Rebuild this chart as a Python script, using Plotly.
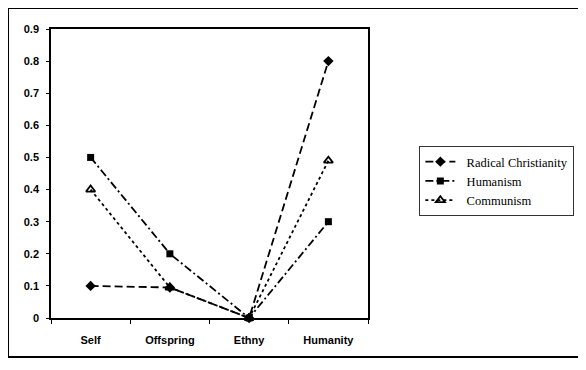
import plotly.graph_objects as go

categories = ["Self", "Offspring", "Ethny", "Humanity"]
radical_christianity = [0.1, 0.095, 0.0, 0.8]
humanism = [0.5, 0.2, 0.0, 0.3]
communism = [0.4, 0.095, 0.0, 0.49]
y_ticks = [0, 0.1, 0.2, 0.3, 0.4, 0.5, 0.6, 0.7, 0.8, 0.9]
y_labels = ["0", "0.1", "0.2", "0.3", "0.4", "0.5", "0.6", "0.7", "0.8", "0.9"]

tick_font = dict(size=11, family="Arial, Liberation Sans, sans-serif", color="black", weight="bold")

fig = go.Figure()
fig.add_trace(go.Scatter(
    x=categories, y=radical_christianity, name="  Radical Christianity",
    mode="lines+markers",
    line=dict(color="black", width=1.8, dash="8px,4px"),
    marker=dict(symbol="diamond", size=8, color="black"),
    cliponaxis=False,
))
fig.add_trace(go.Scatter(
    x=categories, y=humanism, name="  Humanism",
    mode="lines+markers",
    line=dict(color="black", width=1.8, dash="8px,3px,2px,3px"),
    marker=dict(symbol="square", size=7, color="black"),
    cliponaxis=False,
))
fig.add_trace(go.Scatter(
    x=categories, y=communism, name="  Communism",
    mode="lines+markers",
    line=dict(color="black", width=1.8, dash="3px,3px"),
    marker=dict(symbol="triangle-up-open", size=8, color="black", line=dict(width=1.8)),
    cliponaxis=False,
))

fig.update_layout(
    width=586, height=370,
    margin=dict(l=43, r=226, t=21, b=60),
    paper_bgcolor="white", plot_bgcolor="white",
    font=dict(family="Arial, Liberation Sans, sans-serif", size=10, color="black"),
    showlegend=True,
    legend=dict(
        x=1.162, y=0.595, xanchor="left", yanchor="top",
        bordercolor="#333", borderwidth=1, bgcolor="white",
        font=dict(family="Liberation Serif, Times New Roman, serif", size=12.5, color="black"),
        tracegroupgap=0, itemwidth=30,
    ),
    xaxis=dict(
        type="category", range=[-0.5, 3.5],
        showline=True, linecolor="black", linewidth=1.5, mirror=True,
        ticks="outside", tickson="boundaries", ticklen=4, tickcolor="black",
        ticklabelstandoff=11,
        showgrid=False, tickfont=tick_font,
    ),
    yaxis=dict(
        range=[0, 0.9], tickvals=y_ticks, ticktext=y_labels,
        showline=True, linecolor="black", linewidth=1.5, mirror=True,
        ticks="outside", ticklen=3, tickcolor="black",
        ticklabelstandoff=5,
        showgrid=False, zeroline=False,
        tickfont=tick_font,
    ),
    shapes=[dict(
        type="rect", xref="paper", yref="paper",
        x0=-0.1356, x1=1.675, y0=-0.135, y1=1.0727,
        line=dict(color="black", width=2), fillcolor="rgba(0,0,0,0)", layer="below",
    )],
)

fig.write_html("out.html")
